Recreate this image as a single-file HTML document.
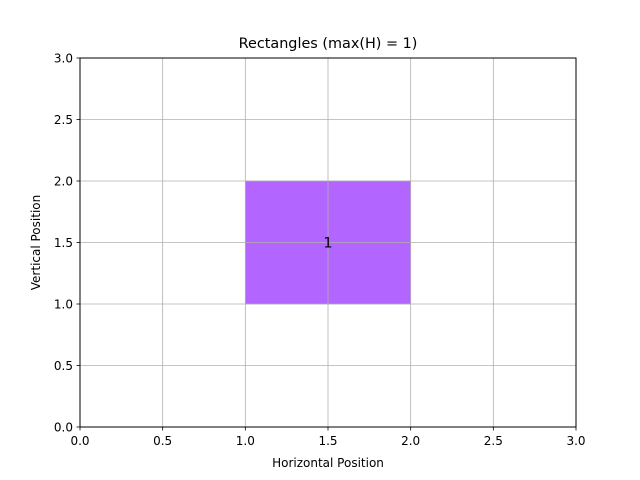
<!DOCTYPE html>
<html><head><meta charset="utf-8"><style>body{margin:0;background:#fff}svg{display:block;font-family:"DejaVu Sans","Liberation Sans",sans-serif}</style></head>
<body>
<svg id="chart" width="640" height="480">
<rect width="640" height="480" fill="#fff"/>
<text x="328" y="48" text-anchor="middle" font-size="14.4">Rectangles (max(H) = 1)</text>
<g id="rects"></g>
<g id="gridTop"></g>
<g id="labels"></g>
<rect x="80" y="58" width="496" height="369" fill="none" stroke="#000" stroke-width="1"/>
<g id="ticks" font-size="12"></g>
<text x="328" y="467" text-anchor="middle" font-size="12">Horizontal Position</text>
<text transform="translate(40,242.5) rotate(-90)" text-anchor="middle" font-size="12">Vertical Position</text>
</svg>
<script>
const xTicks=[0,0.5,1,1.5,2,2.5,3];
const yTicks=[0,0.5,1,1.5,2,2.5,3];
const rectX=[1];
const rectY=[1];
const rectW=[1];
const rectH=[1];
const rectLabels=["1"];
const NS="http://www.w3.org/2000/svg";
const X=v=>80+v/3*496, Y=v=>427-v/3*369;
function mk(t,a,p){const e=document.createElementNS(NS,t);for(const k in a)e.setAttribute(k,a[k]);p.appendChild(e);return e;}
const grid=document.getElementById('gridTop'),tk=document.getElementById('ticks'),rg=document.getElementById('rects'),lg=document.getElementById('labels');
rectX.forEach((x,i)=>{
 const r=mk('rect',{x:X(x),y:Y(rectY[i]+rectH[i]),width:X(x+rectW[i])-X(x),height:Y(rectY[i])-Y(rectY[i]+rectH[i]),fill:'#b266ff',stroke:'#a060e0','stroke-width':0.5},rg);
 
 
 const t=mk('text',{x:X(x+rectW[i]/2),y:Y(rectY[i]+rectH[i]/2)+5,'text-anchor':'middle','font-size':14.4},lg);t.textContent=rectLabels[i];
 
 
});
xTicks.forEach(v=>{
 const l=mk('line',{x1:X(v),x2:X(v),y1:58,y2:427,stroke:'#b0b0b0','stroke-width':0.8},grid);
 
 
 mk('line',{x1:X(v),x2:X(v),y1:427,y2:430.5,stroke:'#000','stroke-width':0.8},tk);
 const t=mk('text',{x:X(v),y:445,'text-anchor':'middle'},tk);t.textContent=v.toFixed(1);
 
 
});
yTicks.forEach(v=>{
 const l=mk('line',{x1:80,x2:576,y1:Y(v),y2:Y(v),stroke:'#b0b0b0','stroke-width':0.8},grid);
 
 
 mk('line',{x1:76.5,x2:80,y1:Y(v),y2:Y(v),stroke:'#000','stroke-width':0.8},tk);
 const t=mk('text',{x:73,y:Y(v)+4.5,'text-anchor':'end'},tk);t.textContent=v.toFixed(1);
 
 
});
</script>
</body></html>
